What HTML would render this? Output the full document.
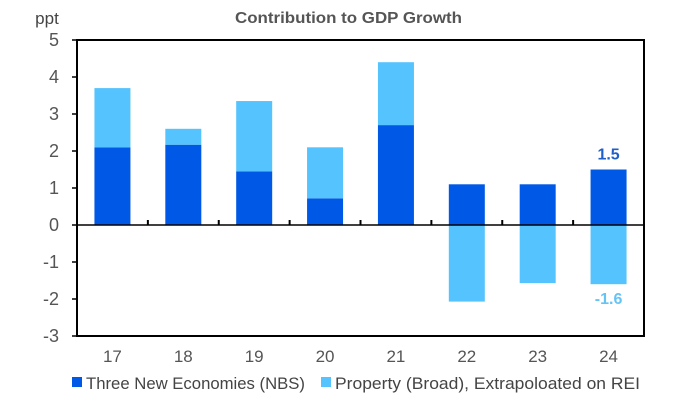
<!DOCTYPE html>
<html><head><meta charset="utf-8"><style>
body{margin:0;background:#fff;width:681px;height:405px;overflow:hidden;font-family:"Liberation Sans",sans-serif;}
</style></head><body>
<svg width="681" height="405">
<text x="235" y="23" textLength="227" lengthAdjust="spacingAndGlyphs" font-size="16" font-weight="bold" fill="#555">Contribution to GDP Growth</text>
<text x="47" y="24" text-anchor="middle" font-size="17" fill="#444">ppt</text>
<g id="g"></g>
</svg>
<script>
const categories=["17","18","19","20","21","22","23","24"];
const newEcon=[2.1,2.17,1.45,0.72,2.7,1.1,1.1,1.5];
const property=[1.6,0.43,1.9,1.38,1.7,-2.07,-1.57,-1.6];
const yTicks=[5,4,3,2,1,0,-1,-2,-3];
const L=77,R=644,T=40,B=336,yMin=-3,yMax=5;
const y=v=>T+(yMax-v)/(yMax-yMin)*(B-T);
const cw=(R-L)/categories.length;
const xc=i=>L+cw*(i+0.5);
const g=document.getElementById('g');const NS='http://www.w3.org/2000/svg';
function mk(t,a,txt){const e=document.createElementNS(NS,t);for(const k in a)e.setAttribute(k,a[k]);if(txt!=null)e.textContent=txt;g.appendChild(e);return e;}
const bw=36;
categories.forEach((c,i)=>{
 const d=newEcon[i],p=property[i];
 const b1=mk('rect',{x:xc(i)-bw/2,y:y(Math.max(d,0)),width:bw,height:Math.abs(y(d)-y(0)),fill:'#0058e6'});
 
 
 let s=p>=0?d:0;
 const top=p>=0?y(s+p):y(0);
 const b2=mk('rect',{x:xc(i)-bw/2,y:top,width:bw,height:Math.abs(y(s+p)-y(s)),fill:'#55c3fd'});
 
 
 const t=mk('text',{x:xc(i),y:362,'text-anchor':'middle','font-size':17,fill:'#555'},c);
 
 
});
for(let i=1;i<categories.length;i++){mk('line',{x1:L+cw*i,x2:L+cw*i,y1:y(0),y2:y(0)-5,stroke:'#000','stroke-width':2});}
mk('line',{x1:L,x2:R,y1:y(0),y2:y(0),stroke:'#000','stroke-width':1.5});
mk('rect',{x:L,y:T,width:R-L,height:B-T,fill:'none',stroke:'#000','stroke-width':2});
yTicks.forEach(v=>{
 mk('line',{x1:L-5,x2:L,y1:y(v),y2:y(v),stroke:'#000','stroke-width':1.5});
 const t=mk('text',{x:L-18,y:y(v)+6,'text-anchor':'end','font-size':18,fill:'#555'},v);
 
 
});
const n=categories.length-1;
const l1=mk('text',{x:xc(n),y:y(newEcon[n])-10,'text-anchor':'middle','font-size':16,'font-weight':'bold',fill:'#1f5fc8'},newEcon[n].toFixed(1));


const l2=mk('text',{x:xc(n),y:y(property[n])+20,'text-anchor':'middle','font-size':16,'font-weight':'bold',fill:'#66c4f5'},property[n].toFixed(1));


const r1=mk('rect',{x:72,y:377,width:10,height:10,fill:'#0058e6'});


const t1=mk('text',{x:86,y:389,'font-size':17,fill:'#444',textLength:219,lengthAdjust:'spacingAndGlyphs'},'Three New Economies (NBS)');


const r2=mk('rect',{x:321,y:377,width:10,height:10,fill:'#55c3fd'});


const t2=mk('text',{x:335,y:389,'font-size':17,fill:'#444',textLength:305,lengthAdjust:'spacingAndGlyphs'},'Property (Broad), Extrapoloated on REI');


</script>
</body></html>
